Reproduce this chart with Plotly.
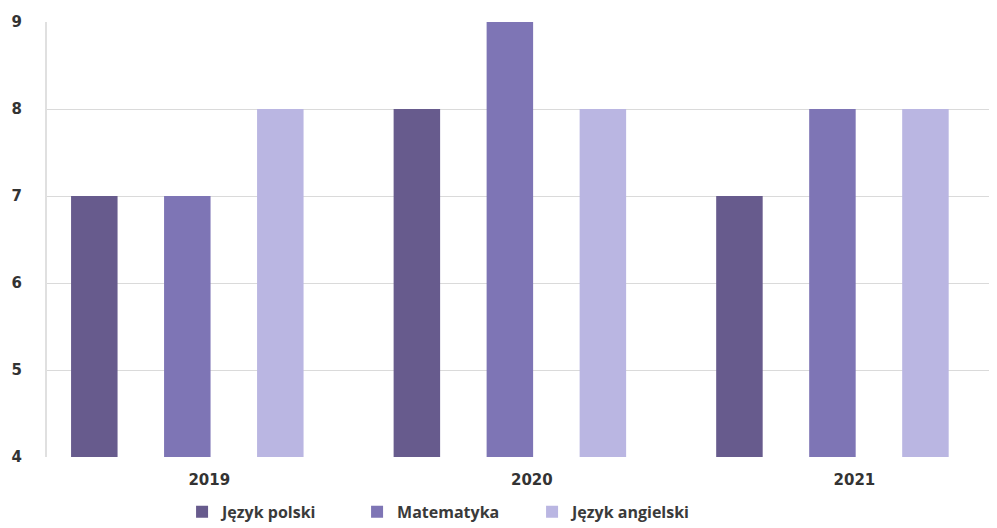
import plotly.graph_objects as go

years = ["2019", "2020", "2021"]
series_names = ["Język polski", "Matematyka", "Język angielski"]
polski = [7, 8, 7]
matematyka = [7, 9, 8]
angielski = [8, 8, 8]
colors = ["#675b8d", "#7e75b5", "#bab6e2"]
y_ticks = [4, 5, 6, 7, 8, 9]

fig = go.Figure()
for name, vals, col in zip(series_names, [polski, matematyka, angielski], colors):
    fig.add_trace(go.Bar(
        x=years, y=vals, name=name, marker=dict(color=col, line=dict(width=0)),
    ))

fig.update_layout(
    width=997, height=528,
    margin=dict(l=39, r=0, t=14, b=79),
    paper_bgcolor="white", plot_bgcolor="white",
    barmode="group", bargap=0.135, bargroupgap=0.5,
    font=dict(family="DejaVu Sans", size=15, color="#333333"),
    showlegend=True,
    legend=dict(
        orientation="h", x=0.415, xanchor="center", y=-0.126, yanchor="middle",
        font=dict(family="Open Sans", size=16, color="#3a3a3a", weight="bold"),
        entrywidth=130, itemsizing="constant", itemwidth=30,
    ),
)
fig.update_xaxes(
    type="category", range=[-0.435, 2.535],
    showgrid=False, showline=False, zeroline=False,
    tickfont=dict(family="DejaVu Sans", size=15, color="#333333", weight="bold"),
    ticks="", ticklabelshift=22, ticklabelstandoff=12,
)
fig.update_yaxes(
    range=[4, 9], tickvals=y_ticks,
    showgrid=True, gridcolor="#dadada", gridwidth=1,
    showline=True, linecolor="#e0e0e0", linewidth=2,
    zeroline=False, ticks="",
    tickfont=dict(family="DejaVu Sans", size=15, color="#333333", weight="bold"),
    ticklabelstandoff=20,
)

fig.write_html("out.html")
